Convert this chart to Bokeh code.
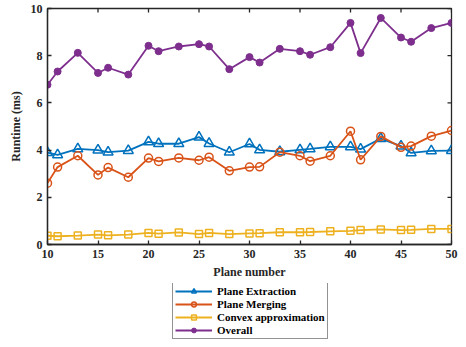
import math
from bokeh.plotting import figure
from bokeh.layouts import column
from bokeh.models import Legend, LegendItem, Range1d, FixedTicker
from bokeh.embed import file_html
from bokeh.resources import INLINE

# ---- data ----
plane_number = [10, 11, 13, 15, 16, 18, 20, 21, 23, 25, 26, 28, 30, 31, 33, 35, 36, 38, 40, 41, 43, 45, 46, 48, 50]
plane_extraction = [3.89, 3.80, 4.05, 4.00, 3.91, 3.98, 4.35, 4.27, 4.27, 4.55, 4.28, 3.91, 4.26,
                    4.01, 3.93, 4.01, 4.05, 4.14, 4.14, 4.04, 4.49, 4.17, 3.88, 3.97, 3.98]
plane_merging = [2.60, 3.28, 3.76, 2.95, 3.26, 2.85, 3.66, 3.52, 3.67, 3.57, 3.70, 3.12, 3.28,
                 3.29, 3.91, 3.76, 3.53, 3.76, 4.80, 3.59, 4.58, 4.12, 4.17, 4.59, 4.83]
convex_approx = [0.37, 0.35, 0.38, 0.42, 0.39, 0.42, 0.49, 0.46, 0.51, 0.44, 0.49, 0.44, 0.47,
                 0.48, 0.52, 0.52, 0.53, 0.56, 0.58, 0.61, 0.64, 0.61, 0.62, 0.66, 0.66]
overall = [6.77, 7.33, 8.12, 7.27, 7.49, 7.20, 8.42, 8.19, 8.39, 8.49, 8.39, 7.43, 7.94,
           7.71, 8.29, 8.19, 8.04, 8.36, 9.39, 8.11, 9.60, 8.77, 8.59, 9.17, 9.39]
series_names = ["Plane Extraction", "Plane Merging", "Convex approximation", "Overall"]
x_ticks = [10, 15, 20, 25, 30, 35, 40, 45, 50]
y_ticks = [0, 2, 4, 6, 8, 10]

FONT = "Liberation Serif"
AX = "#262626"
BLUE, ORANGE, YELLOW, PURPLE = "#0072BD", "#D95319", "#EDB120", "#7E2F8E"
LW = 1.8

p = figure(width=458, height=283, output_backend="svg", toolbar_location=None,
           x_range=Range1d(x_ticks[0], x_ticks[-1]), y_range=Range1d(y_ticks[0], y_ticks[-1]),
           min_border_left=47, min_border_right=7, min_border_top=8, min_border_bottom=39,
           x_axis_label="Plane number", y_axis_label="Runtime (ms)")
p.xgrid.visible = False
p.ygrid.visible = False
p.outline_line_color = AX
p.outline_line_width = 1.3


def style(ax, ticks):
    ax.ticker = FixedTicker(ticks=ticks)
    ax.axis_line_color = AX
    ax.axis_line_width = 1.3
    ax.major_tick_line_color = AX
    ax.major_tick_line_width = 1.3
    ax.major_tick_in = 4
    ax.major_tick_out = 0
    ax.minor_tick_line_color = None
    ax.major_label_text_font = FONT
    ax.major_label_text_font_style = "bold"
    ax.major_label_text_font_size = "12px"
    ax.major_label_text_color = AX
    ax.axis_label_text_font = FONT
    ax.axis_label_text_font_style = "bold"
    ax.axis_label_text_font_size = "12px"
    ax.axis_label_text_color = AX


style(p.xaxis[0], x_ticks)
style(p.yaxis[0], y_ticks)
p.xaxis[0].major_label_standoff = 5
p.xaxis[0].axis_label_standoff = 4
p.yaxis[0].major_label_standoff = 5
p.yaxis[0].axis_label_standoff = 5

# inward ticks on the top and right edges of the box
p.ray(x=x_ticks, y=[y_ticks[-1]] * len(x_ticks), length=4, length_units="screen",
      angle=-math.pi / 2, line_color=AX, line_width=1.3)
p.ray(x=[x_ticks[-1]] * len(y_ticks), y=y_ticks, length=4, length_units="screen",
      angle=math.pi, line_color=AX, line_width=1.3)

series = [plane_extraction, plane_merging, convex_approx, overall]
styles = [
    dict(color=BLUE, marker="triangle", size=10, fill=None, mlw=1.5),
    dict(color=ORANGE, marker="circle", size=8, fill=None, mlw=1.5),
    dict(color=YELLOW, marker="square", size=7, fill=None, mlw=1.5),
    dict(color=PURPLE, marker="circle", size=7, fill=PURPLE, mlw=1),
]

for ys, st in zip(series, styles):
    p.line(plane_number, ys, line_color=st["color"], line_width=LW)
    p.scatter(plane_number, ys, marker=st["marker"], size=st["size"],
              line_color=st["color"], fill_color=st["fill"], line_width=st["mlw"])

# ---- legend in its own strip below the chart ----
# The strip's view range lies away from the data, so its renderers only feed the legend.
leg = figure(width=458, height=56, output_backend="svg", toolbar_location=None,
             x_axis_location=None, y_axis_location=None,
             min_border_left=47, min_border_right=7, min_border_top=0, min_border_bottom=0,
             x_range=Range1d(0, 1), y_range=Range1d(0, 1))
leg.xgrid.visible = False
leg.ygrid.visible = False
leg.outline_line_color = None

items = []
for name, ys, st in zip(series_names, series, styles):
    lr = leg.line(plane_number, ys, line_color=st["color"], line_width=LW)
    mr = leg.scatter(plane_number, ys, marker=st["marker"], size=st["size"],
                     line_color=st["color"], fill_color=st["fill"], line_width=st["mlw"])
    items.append(LegendItem(label=name, renderers=[lr, mr]))

legend = Legend(items=items, location=(125, 0), orientation="vertical")
legend.label_text_font = FONT
legend.label_text_font_style = "bold"
legend.label_text_font_size = "11px"
legend.label_text_color = "black"
legend.label_height = 12
legend.glyph_height = 12
legend.glyph_width = 37
legend.label_standoff = 5
legend.spacing = 1
legend.padding = 2
legend.margin = 0
legend.border_line_color = AX
legend.border_line_width = 1
legend.background_fill_alpha = 1
leg.add_layout(legend)

layout = column(p, leg, spacing=0)
open("out.html", "w").write(file_html(layout, INLINE))
